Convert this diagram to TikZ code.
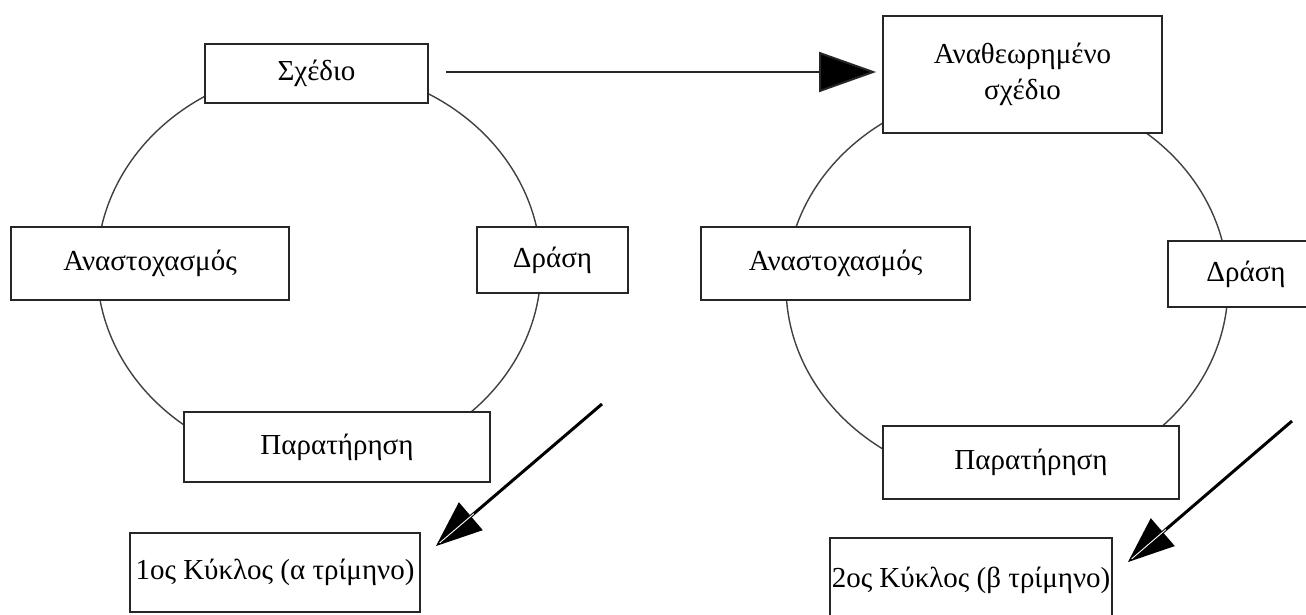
\documentclass[tikz,border=0pt]{standalone}
\usepackage{fontspec}
\setmainfont{Liberation Serif}
\usetikzlibrary{arrows.meta,calc}
\begin{document}
\begin{tikzpicture}[x=1pt,y=-1pt,
  box/.style={draw=black!85, line width=1.8pt, fill=white, inner sep=0pt,
    font=\fontsize{29}{36}\selectfont, align=center},
  cycleline/.style={draw=black!75, line width=1.4pt},
  planarrow/.style={draw=black!85, line width=2pt,
    -{Triangle[length=57pt,width=40pt,fill=black]}},
  diagarrow/.style={draw=black, line width=3pt,
    -{Triangle[length=46pt,width=36pt,fill=black]}},
  headgap/.style={draw=white, line width=0.9pt}]
\useasboundingbox (0,0) rectangle (1306,615);

% the two cycles
\draw[cycleline] (319,267) ellipse [x radius=222pt, y radius=199pt];
\draw[cycleline] (1007,286) ellipse [x radius=221pt, y radius=197pt];

% first cycle
\node[box, minimum width=223pt, minimum height=59pt] (plan1) at (316.5,73.5) {Σχέδιο};
\node[box, minimum width=278pt, minimum height=73pt] (refl1) at (150,263.5) {Αναστοχασμός};
\node[box, minimum width=151pt, minimum height=66pt] (act1) at (552.5,260) {Δράση};
\node[box, minimum width=306pt, minimum height=70pt] (obs1) at (337,447) {Παρατήρηση};
\node[box, minimum width=290pt, minimum height=79pt] (cyc1) at (275,572.5) {1ος Κύκλος (α τρίμηνο)};

% second cycle
\node[box, minimum width=279pt, minimum height=117pt] (plan2) at (1022.5,74.5) {Αναθεωρημένο\\σχέδιο};
\node[box, minimum width=269pt, minimum height=73pt] (refl2) at (835.5,263.5) {Αναστοχασμός};
\node[box, minimum width=156pt, minimum height=66pt] (act2) at (1246,274) {Δράση};
\node[box, minimum width=296pt, minimum height=73pt] (obs2) at (1031,462.5) {Παρατήρηση};
\node[box, minimum width=282pt, minimum height=84pt] (cyc2) at (971,580) {2ος Κύκλος (β τρίμηνο)};

% plan -> revised plan
\coordinate (h0) at ([xshift=17pt,yshift=1.5pt]plan1.east);
\draw[planarrow, shorten >=6pt] (h0) -- (h0 -| plan2.west);

% arrows pointing to the cycle labels
\coordinate (s1) at (602,404);
\coordinate (t1) at ([shift={(15,14)}]cyc1.north east);
\draw[diagarrow] (s1) -- (t1);
\draw[headgap] ($(t1)!5pt!(s1)$) -- ($(t1)!50pt!(s1)$);

\coordinate (s2) at (1292,421);
\coordinate (t2) at ([shift={(15,25)}]cyc2.north east);
\draw[diagarrow] (s2) -- (t2);
\draw[headgap] ($(t2)!5pt!(s2)$) -- ($(t2)!50pt!(s2)$);
\end{tikzpicture}
\end{document}
